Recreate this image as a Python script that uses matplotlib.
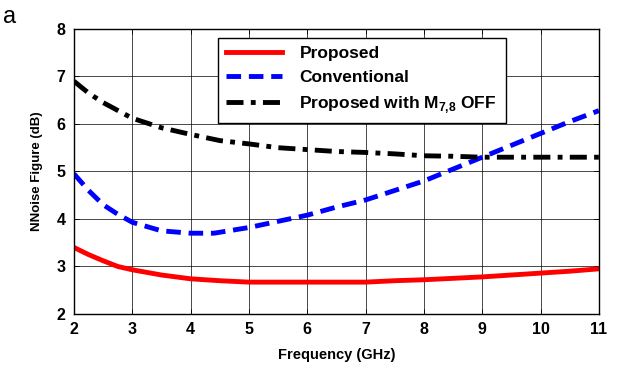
import matplotlib
matplotlib.use("Agg")
import matplotlib.pyplot as plt

plt.rcParams['font.family'] = ['Liberation Sans', 'DejaVu Sans']
plt.rcParams['mathtext.fontset'] = 'custom'
plt.rcParams['mathtext.bf'] = 'Liberation Sans:bold'

# ===============================
# Data
# ===============================
freq_prop = [2, 2.25, 2.5, 2.75, 3, 3.5, 4, 4.5, 5, 6, 7, 7.5, 8, 8.5, 9, 9.5, 10, 10.5, 11]
nf_prop = [3.4, 3.25, 3.12, 3.0, 2.93, 2.82, 2.74, 2.7, 2.67, 2.67, 2.67, 2.7, 2.72, 2.75, 2.78, 2.82, 2.86, 2.9, 2.95]

freq_conv = [2, 2.25, 2.5, 2.75, 3, 3.5, 4, 4.4, 5, 5.5, 6, 6.5, 7, 7.5, 8, 8.5, 9, 9.5, 10, 10.5, 11]
nf_conv = [4.95, 4.6, 4.3, 4.1, 3.93, 3.75, 3.7, 3.7, 3.82, 3.95, 4.08, 4.25, 4.4, 4.6, 4.8, 5.05, 5.3, 5.55, 5.8, 6.05, 6.28]

freq_off = [2, 2.25, 2.5, 3, 3.5, 4, 4.5, 5, 5.5, 6, 6.5, 7, 7.5, 8, 8.5, 9, 10, 11]
nf_off = [6.9, 6.65, 6.45, 6.12, 5.92, 5.78, 5.65, 5.58, 5.5, 5.46, 5.42, 5.4, 5.37, 5.33, 5.32, 5.3, 5.3, 5.3]

# ===============================
# Plot
# ===============================
fig = plt.figure(figsize=(6.19, 3.76), dpi=100)
ax = fig.add_axes([0.1195, 0.165, 0.848, 0.758])

ax.plot(freq_prop, nf_prop, color="red", lw=3.5, label="Proposed")
ax.plot(freq_conv, nf_conv, color="blue", lw=3.5, ls=(0, (3, 1.6)), label="Conventional")
ax.plot(freq_off, nf_off, color="black", lw=3.5, ls=(0, (3.5, 1.5, 1, 1.5)),
        label=r"Proposed with M$_{\mathbf{7{,}8}}$ OFF")

ax.set_xlim(2, 11)
ax.set_ylim(2, 8)
ax.set_xticks(range(2, 12))
ax.set_yticks(range(2, 9))
ax.grid(True, color="black", lw=0.5)
ax.tick_params(direction="in", top=True, right=True, labelsize=11.5, pad=6, width=0.6)
for lbl in ax.get_xticklabels() + ax.get_yticklabels():
    lbl.set_fontweight("bold")
for s in ax.spines.values():
    s.set_linewidth(1.0)

ax.set_xlabel("Frequency (GHz)", fontsize=10.5, fontweight="bold", labelpad=8)
ax.set_ylabel("NNoise Figure (dB)", fontsize=9.5, fontweight="bold", labelpad=10)

leg = ax.legend(loc="upper left", bbox_to_anchor=(0.274, 0.97), fancybox=False,
                edgecolor="black", framealpha=1, handlelength=3.2, handletextpad=1.0,
                prop={"weight": "bold", "size": 12.5}, borderpad=0.5, labelspacing=0.5,
                borderaxespad=0)
leg.get_frame().set_linewidth(1.0)

fig.text(0.005, 0.985, "a", fontsize=17, va="top", ha="left")

fig.savefig("out.png", dpi=100)
